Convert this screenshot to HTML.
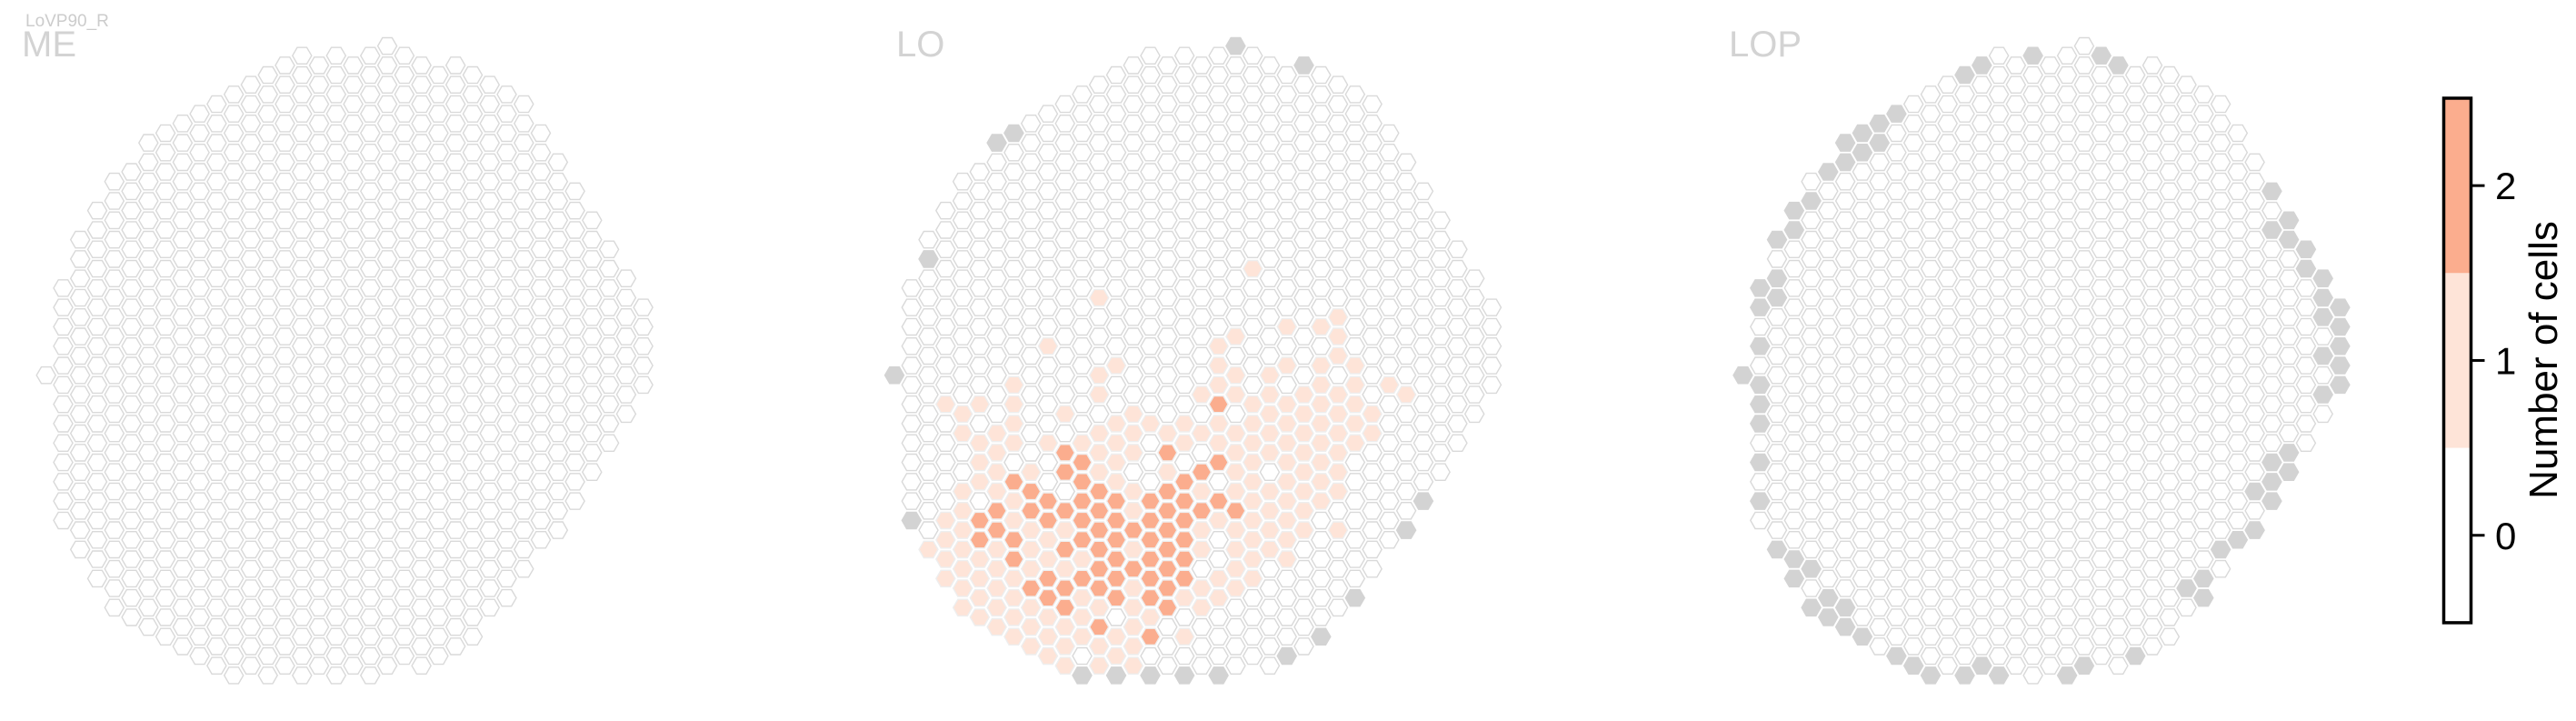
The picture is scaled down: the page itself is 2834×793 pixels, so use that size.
<!DOCTYPE html>
<html><head><meta charset="utf-8"><style>
html,body{margin:0;padding:0;background:#fff;}
svg{display:block;font-family:"Liberation Sans",Arial,sans-serif;}
</style></head><body>
<svg id="chart" width="2834" height="793" viewBox="0 0 2834 793" xmlns="http://www.w3.org/2000/svg">
<text x="28" y="29" font-size="19" fill="#cccccc">LoVP90_R</text>
<g id="panels"></g>
<g id="colorbar"></g>
</svg>
<script>
// grid shape: min/max row per column (cols 0..35)
const colMin = [0,-5,-7,-9,-10,-11,-12,-13,-13,-14,-14,-15,-15,-16,-16,-17,-16,-17,-16,-17,-17,-17,-16,-16,-16,-16,-15,-15,-14,-13,-11,-10,-8,-7,-5,-4];
const colMax = [0,7,9,10,12,12,13,13,14,14,15,15,15,15,15,15,15,15,15,15,15,14,15,14,14,13,12,11,10,8,8,6,5,3,2,0];
const panelNames = ["ME","LO","LOP"];
// LO counts: [column, rows]
const loOnes = [[2,[9]],[3,[1,7,8,9,10]],[4,[2,3,6,7,8,9,10,11,12]],[5,[1,3,4,5,9,10,11,12]],[6,[3,4,5,6,9,10,11,12,13]],[7,[0,1,2,3,6,7,10,11,12,13]],[8,[5,8,9,10,12,13,14]],[9,[-2,3,8,9,12,13,14]],[10,[2,8,10,13,14,15]],[11,[3,9,11,12,13]],[12,[-4,0,1,3,4,5,12,14,15]],[13,[-1,2,3,4,5,13,14]],[14,[2,3,4,6,7,9,11,12,13,14,15]],[15,[2,12]],[16,[3,5]],[17,[2,3,11,13]],[18,[1,3,6,8,9,11,12]],[19,[-2,-1,0,2,3,7,10,11]],[20,[-2,0,1,3,4,5,6,8,9,10,11]],[21,[-6,1,2,3,4,5,6,7,8,9,10]],[22,[0,1,2,3,4,6,7,8,9]],[23,[-3,-1,1,2,3,4,5,6,7,8,9]],[24,[1,2,3,4,5,6,7,8]],[25,[-3,-1,0,1,2,3,4,5,6]],[26,[-3,-2,-1,1,2,3,4,5,6,8]],[27,[-1,0,1,2,3]],[28,[2,3]],[29,[0]],[30,[1]]];
const loTwos = [[5,[7,8]],[6,[7,8]],[7,[5,8,9]],[8,[6,7,11]],[9,[6,7,10,11]],[10,[4,5,7,9,11,12]],[11,[4,5,6,7,8,10]],[12,[6,7,8,9,10,11,13]],[13,[6,7,8,9,10,11]],[14,[8,10]],[15,[6,7,8,9,10,11,13]],[16,[4,6,7,8,9,10,11,12]],[17,[5,6,7,8,9,10]],[18,[5,7]],[19,[1,4,6]],[20,[7]]];
const loGrey = [[0,0],[1,7],[2,-6],[6,-12],[7,-13],[20,-17],[24,-16],[11,15],[13,15],[15,15],[17,15],[19,15],[23,14],[25,13],[27,11],[30,8],[31,6]];
const lopGrey = [[14,-16],[13,-16],[17,-17],[21,-17],[22,-16],[9,-14],[8,-13],[8,-12],[7,-13],[7,-12],[6,-12],[6,-11],[5,-11],[4,-9],[3,-9],[3,-8],[2,-7],[2,-5],[2,-4],[1,-5],[1,-4],[1,-2],[0,0],[1,0],[1,1],[1,2],[1,4],[1,6],[2,9],[3,9],[3,10],[4,10],[4,12],[5,11],[5,12],[6,12],[6,13],[7,13],[9,14],[10,15],[11,15],[13,15],[14,15],[15,15],[19,15],[20,15],[23,14],[26,11],[27,10],[27,11],[28,9],[29,8],[30,8],[30,6],[31,5],[31,6],[31,4],[32,4],[32,5],[34,1],[35,0],[35,-1],[35,-2],[35,-3],[35,-4],[34,-1],[34,-3],[34,-4],[34,-5],[33,-6],[33,-7],[32,-7],[32,-8],[31,-8],[31,-10]];
const cbTicks = [0,1,2];
const cbColors = ["#ffffff","#fee4d8","#fbad8e"];

const NS="http://www.w3.org/2000/svg";
const panelX0=[50.7,984,1917.5], labelX=[24,986,1902];
const dx=18.77, dy=21.3, y0=412.7, R=10.5;
function px(p,c){return panelX0[p]+c*dx;}
function py(c,r){return y0+r*dy+(c%2?dy/2:0);}
function hexPts(cx,cy){const h=R*0.866;return [[cx-R,cy],[cx-R/2,cy-h],[cx+R/2,cy-h],[cx+R,cy],[cx+R/2,cy+h],[cx-R/2,cy+h]].map(p=>p[0].toFixed(1)+","+p[1].toFixed(1)).join(" ");}
function lookup(list){const m={};list.forEach(([c,rows])=>rows.forEach(r=>m[c+"_"+r]=1));return m;}
const ones=lookup(loOnes), twos=lookup(loTwos);
const greyLO={}; loGrey.forEach(([c,r])=>greyLO[c+"_"+r]=1);
const greyLOP={}; lopGrey.forEach(([c,r])=>greyLOP[c+"_"+r]=1);
const panels=document.getElementById("panels");
panelNames.forEach((name,p)=>{
  const g=document.createElementNS(NS,"g");
  
  
  panels.appendChild(g);
  const t=document.createElementNS(NS,"text");
  t.setAttribute("x",labelX[p]);t.setAttribute("y",62);t.setAttribute("font-size","40");t.setAttribute("fill","#d3d3d3");
  t.textContent=name;
  
  
  g.appendChild(t);
  for(let c=0;c<colMin.length;c++){
    for(let r=colMin[c];r<=colMax[c];r++){
      const k=c+"_"+r;
      let fill="#ffffff", stroke="#d9d9d9";
      if(p===1){
        if(greyLO[k]){fill="#d3d3d3";stroke="#d3d3d3";}
        else if(twos[k]){fill=cbColors[2];stroke="#eeeeee";}
        else if(ones[k]){fill=cbColors[1];stroke="#eeeeee";}
      } else if(p===2 && greyLOP[k]){fill="#d3d3d3";stroke="#d3d3d3";}
      const poly=document.createElementNS(NS,"polygon");
      poly.setAttribute("points",hexPts(px(p,c),py(c,r)));
      poly.setAttribute("fill",fill);poly.setAttribute("stroke",stroke);poly.setAttribute("stroke-width","1.4");
      
      
      g.appendChild(poly);
    }
  }
});
// colorbar
const cb=document.getElementById("colorbar");
const cbX=2688.5, cbW=30, cbTop=108, cbBand=192.3;
function cbY(v){return cbTop+(cbTicks.length-0.5-v)*cbBand;}
cbTicks.forEach((v,i)=>{
  const r=document.createElementNS(NS,"rect");
  r.setAttribute("x",cbX);r.setAttribute("y",cbY(v)-cbBand/2);r.setAttribute("width",cbW);r.setAttribute("height",cbBand);r.setAttribute("fill",cbColors[i]);
  
  
  cb.appendChild(r);
  const tk=document.createElementNS(NS,"line");
  tk.setAttribute("x1",cbX+cbW);tk.setAttribute("x2",cbX+cbW+15);tk.setAttribute("y1",cbY(v));tk.setAttribute("y2",cbY(v));tk.setAttribute("stroke","#000");tk.setAttribute("stroke-width","3");
  
  
  cb.appendChild(tk);
  const lb=document.createElementNS(NS,"text");
  lb.setAttribute("x",2745);lb.setAttribute("y",cbY(v)+15);lb.setAttribute("font-size","42");lb.setAttribute("fill","#000");
  lb.textContent=String(v);
  
  
  cb.appendChild(lb);
});
const border=document.createElementNS(NS,"rect");
border.setAttribute("x",cbX);border.setAttribute("y",cbTop);border.setAttribute("width",cbW);border.setAttribute("height",cbBand*cbTicks.length);
border.setAttribute("fill","none");border.setAttribute("stroke","#000");border.setAttribute("stroke-width","3.5");


cb.appendChild(border);
const ttl=document.createElementNS(NS,"text");
ttl.setAttribute("transform","translate(2813,396) rotate(-90)");ttl.setAttribute("text-anchor","middle");ttl.setAttribute("font-size","44");ttl.setAttribute("fill","#000");
ttl.textContent="Number of cells";


cb.appendChild(ttl);
</script>
</body></html>
